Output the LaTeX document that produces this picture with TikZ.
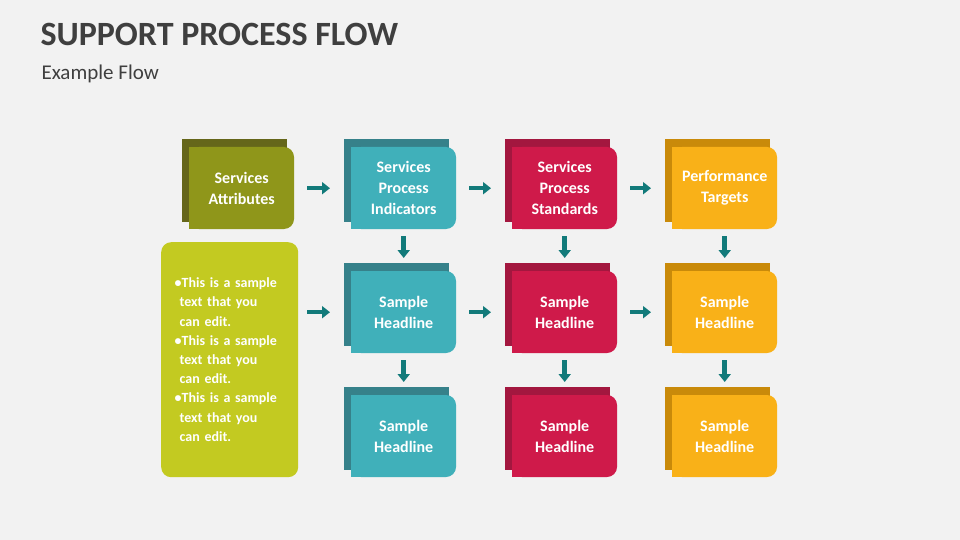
\documentclass[tikz,border=0pt]{standalone}
\usepackage{fontspec}
\setmainfont{Carlito}
\usetikzlibrary{arrows.meta}
\definecolor{bg}{HTML}{F2F2F2}
\definecolor{olB}{HTML}{65661A}\definecolor{olF}{HTML}{8F961A}
\definecolor{tlB}{HTML}{36818A}\definecolor{tlF}{HTML}{40B0BA}
\definecolor{crB}{HTML}{A3173F}\definecolor{crF}{HTML}{CF1A4A}
\definecolor{orB}{HTML}{C98A0A}\definecolor{orF}{HTML}{F9B118}
\definecolor{lime}{HTML}{C3CA21}
\definecolor{arw}{HTML}{127A7A}
\definecolor{ttl}{HTML}{3F3F3F}
\tikzset{
 lbl/.style={minimum width=105pt,minimum height=82pt,inner sep=0pt,text=white,align=center,font=\bfseries\fontsize{16}{21}\selectfont},
 arr/.style={draw=arw,line width=4.5pt,-{Triangle[width=12pt,length=8pt]}},
 harr/.style={arr,shorten <=13pt,shorten >=21pt},
 varr/.style={arr,shorten <=7pt,shorten >=13pt}
}
% name, left x, top y, back, front, text
\newcommand{\mycard}[6]{%
 \fill[#4] (#2-7,#3-8) rectangle (#2+98,#3+75);
 \fill[#5,rounded corners=10pt] (#2,#3) rectangle (#2+105,#3+82);
 \fill[#5] (#2,#3) rectangle (#2+20,#3+82);
 \node[lbl,anchor=north west] (#1) at (#2,#3) {#6};
}
\begin{document}
\begin{tikzpicture}[x=1pt,y=-1pt]
\fill[bg] (0,0) rectangle (960,540);
\useasboundingbox (0,0) rectangle (960,540);
\node[anchor=west,text=ttl,font=\bfseries\fontsize{34}{40}\selectfont] (title) at (37,34) {SUPPORT PROCESS FLOW};
\node[anchor=west,text=ttl,font=\fontsize{21}{25}\selectfont] (sub) at (38,74) {Example Flow};
\mycard{a1}{189}{147}{olB}{olF}{Services\\Attributes}
\mycard{b1}{351}{147}{tlB}{tlF}{Services\\Process\\Indicators}
\mycard{c1}{512}{147}{crB}{crF}{Services\\Process\\Standards}
\mycard{d1}{672}{147}{orB}{orF}{Performance\\Targets}
\mycard{b2}{351}{271}{tlB}{tlF}{Sample\\Headline}
\mycard{c2}{512}{271}{crB}{crF}{Sample\\Headline}
\mycard{d2}{672}{271}{orB}{orF}{Sample\\Headline}
\mycard{b3}{351}{395}{tlB}{tlF}{Sample\\Headline}
\mycard{c3}{512}{395}{crB}{crF}{Sample\\Headline}
\mycard{d3}{672}{395}{orB}{orF}{Sample\\Headline}
\node[fill=lime,rounded corners=10pt,minimum width=137pt,minimum height=235pt,inner sep=0pt,anchor=north west] (txt) at (161,242) {};
\node[text=white,align=left,text width=110pt,font=\bfseries\fontsize{14}{19.2}\selectfont] at (txt.center) {%
\textbullet This is a sample\\\hspace*{5pt}text that you\\\hspace*{5pt}can edit.\\
\textbullet This is a sample\\\hspace*{5pt}text that you\\\hspace*{5pt}can edit.\\
\textbullet This is a sample\\\hspace*{5pt}text that you\\\hspace*{5pt}can edit.};
\draw[harr] (a1.east) -- (b1.west);
\draw[harr] (b1.east) -- (c1.west);
\draw[harr] (c1.east) -- (d1.west);
\draw[harr,shorten <=9pt] (txt.east|-b2.west) -- (b2.west);
\draw[harr] (b2.east) -- (c2.west);
\draw[harr] (c2.east) -- (d2.west);
\foreach \c in {b,c,d}{
 \draw[varr] (\c1.south) -- (\c2.north);
 \draw[varr] (\c2.south) -- (\c3.north);
}
\end{tikzpicture}
\end{document}
